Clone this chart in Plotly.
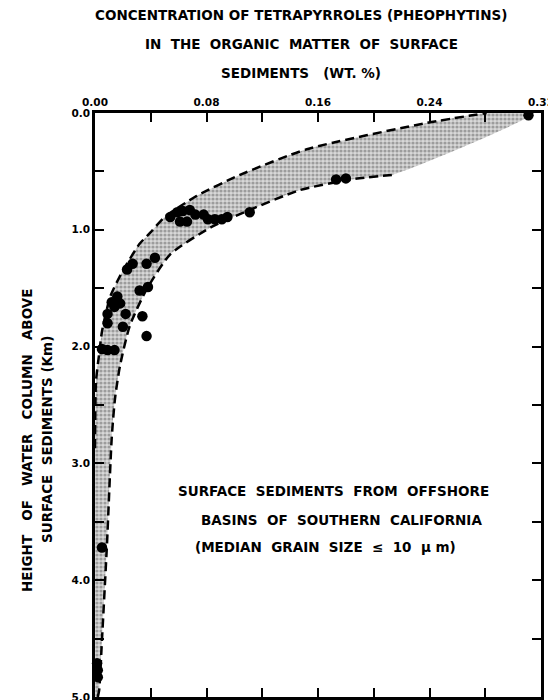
import plotly.graph_objects as go

# Observed data points (concentration wt.%, depth km)
pts_x = [0.054, 0.059, 0.063, 0.068, 0.072, 0.066, 0.061, 0.078, 0.081, 0.086, 0.091, 0.095,
         0.111, 0.043, 0.037, 0.027, 0.023, 0.038, 0.032, 0.016, 0.012, 0.018, 0.014, 0.009,
         0.022, 0.034, 0.009, 0.020, 0.037, 0.005, 0.009, 0.014, 0.005, 0.0015, 0.002, 0.002,
         0.173, 0.180, 0.311]
pts_y = [0.89, 0.85, 0.84, 0.83, 0.87, 0.93, 0.93, 0.87, 0.91, 0.91, 0.91, 0.89,
         0.85, 1.24, 1.29, 1.29, 1.34, 1.49, 1.52, 1.57, 1.62, 1.63, 1.66, 1.72,
         1.72, 1.74, 1.80, 1.83, 1.91, 2.02, 2.03, 2.03, 3.72, 4.71, 4.77, 4.83,
         0.57, 0.56, 0.02]

# Upper (left) envelope of the band
upper_x = [0.0, 0.0, 0.0007, 0.003, 0.005, 0.011, 0.020, 0.032, 0.040, 0.050, 0.073, 0.104, 0.152, 0.238, 0.281]
upper_y = [5.0, 2.87, 2.30, 2.06, 1.87, 1.57, 1.35, 1.12, 1.02, 0.89, 0.71, 0.53, 0.31, 0.085, 0.0]
# Lower (right) envelope of the band
lower_x = [0.002, 0.003, 0.005, 0.0086, 0.012, 0.0144, 0.018, 0.025, 0.037, 0.054, 0.083, 0.109, 0.147, 0.183, 0.213]
lower_y = [5.0, 4.94, 4.51, 3.69, 2.78, 2.44, 2.16, 1.82, 1.51, 1.21, 0.98, 0.84, 0.66, 0.57, 0.53]
# corner where shading meets the top axis
corner_x = [0.315]
corner_y = [0.0]

x_ticks = [0.0, 0.04, 0.08, 0.12, 0.16, 0.20, 0.24, 0.28, 0.32]
x_ticktext = ["0.00", "", "0.08", "", "0.16", "", "0.24", "", "0.32"]
y_ticks = [0.0, 0.5, 1.0, 1.5, 2.0, 2.5, 3.0, 3.5, 4.0, 4.5, 5.0]
y_ticktext = ["0.0", "", "1.0", "", "2.0", "", "3.0", "", "4.0", "", "5.0"]

title_lines = ["CONCENTRATION OF TETRAPYRROLES (PHEOPHYTINS)",
               "IN  THE  ORGANIC  MATTER  OF  SURFACE",
               "SEDIMENTS   (WT. %)"]
ytitle_lines = ["HEIGHT   OF   WATER   COLUMN   ABOVE", "SURFACE  SEDIMENTS (Km)"]
note_lines = ["SURFACE  SEDIMENTS  FROM  OFFSHORE",
              "BASINS  OF  SOUTHERN  CALIFORNIA",
              "(MEDIAN  GRAIN  SIZE  \u2264  10  \u03bc m)"]

FONT = "DejaVu Sans"
fs = 13.5

fig = go.Figure()

poly_x = upper_x + corner_x + lower_x[::-1]
poly_y = upper_y + corner_y + lower_y[::-1]
fig.add_trace(go.Scatter(x=poly_x, y=poly_y, mode="lines", fill="toself",
                         line=dict(width=0, shape="spline", smoothing=0.6), fillcolor="#c4c4c4",
                         fillpattern=dict(shape=".", fgcolor="#606060", bgcolor="#d8d8d8",
                                          size=4, solidity=0.5),
                         hoverinfo="skip", showlegend=False))
fig.add_trace(go.Scatter(x=upper_x[1:], y=upper_y[1:], mode="lines",
                         line=dict(color="black", width=2.5, dash="9px,5px",
                                   shape="spline", smoothing=0.6),
                         showlegend=False))
fig.add_trace(go.Scatter(x=lower_x, y=lower_y, mode="lines",
                         line=dict(color="black", width=2.5, dash="9px,5px",
                                   shape="spline", smoothing=0.6),
                         showlegend=False))
fig.add_trace(go.Scatter(x=pts_x, y=pts_y, mode="markers",
                         marker=dict(color="black", size=10.5),
                         cliponaxis=False, showlegend=False))

ann = []
ty = [1.1678, 1.118, 1.0685]
for t, yy in zip(title_lines, ty):
    ann.append(dict(text=t, xref="paper", yref="paper", x=0.462, y=yy,
                    xanchor="center", yanchor="middle", showarrow=False, borderpad=0,
                    font=dict(family=FONT, size=fs, color="black", weight="bold")))
for t, xx in zip(ytitle_lines, [-0.1525, -0.1076]):
    ann.append(dict(text=t, xref="paper", yref="paper", x=xx, y=0.44, textangle=-90,
                    xanchor="center", yanchor="middle", showarrow=False, borderpad=0,
                    font=dict(family=FONT, size=fs, color="black", weight="bold")))
for t, xx, yy in zip(note_lines, [0.1708, 0.1765, 0.1657], [3.234, 3.481, 3.719]):
    ann.append(dict(text=t, xref="x", yref="y", x=xx, y=yy,
                    xanchor="center", yanchor="middle", showarrow=False, borderpad=0,
                    font=dict(family=FONT, size=fs, color="black", weight="bold")))

axis_common = dict(showgrid=False, zeroline=False, showline=True, linecolor="black",
                   linewidth=2.5, mirror="ticks", ticks="inside", ticklen=9,
                   tickwidth=2, tickcolor="black", automargin=False,
                   ticklabeloverflow="allow",
                   tickfont=dict(family=FONT, size=10.5, color="black", weight="bold"))

# page body has an 8px margin, so the figure is sized to fit inside the 556x700 window
fig.update_layout(
    width=548, height=692,
    margin=dict(l=87, r=15, t=105, b=3, autoexpand=False),
    paper_bgcolor="white", plot_bgcolor="white",
    xaxis=dict(range=[0, 0.32], side="top", tickmode="array", tickvals=x_ticks,
               ticktext=x_ticktext, **axis_common),
    yaxis=dict(range=[5.0, 0.0], tickmode="array", tickvals=y_ticks,
               ticktext=y_ticktext, **axis_common),
    annotations=ann,
)

fig.write_html("out.html")
